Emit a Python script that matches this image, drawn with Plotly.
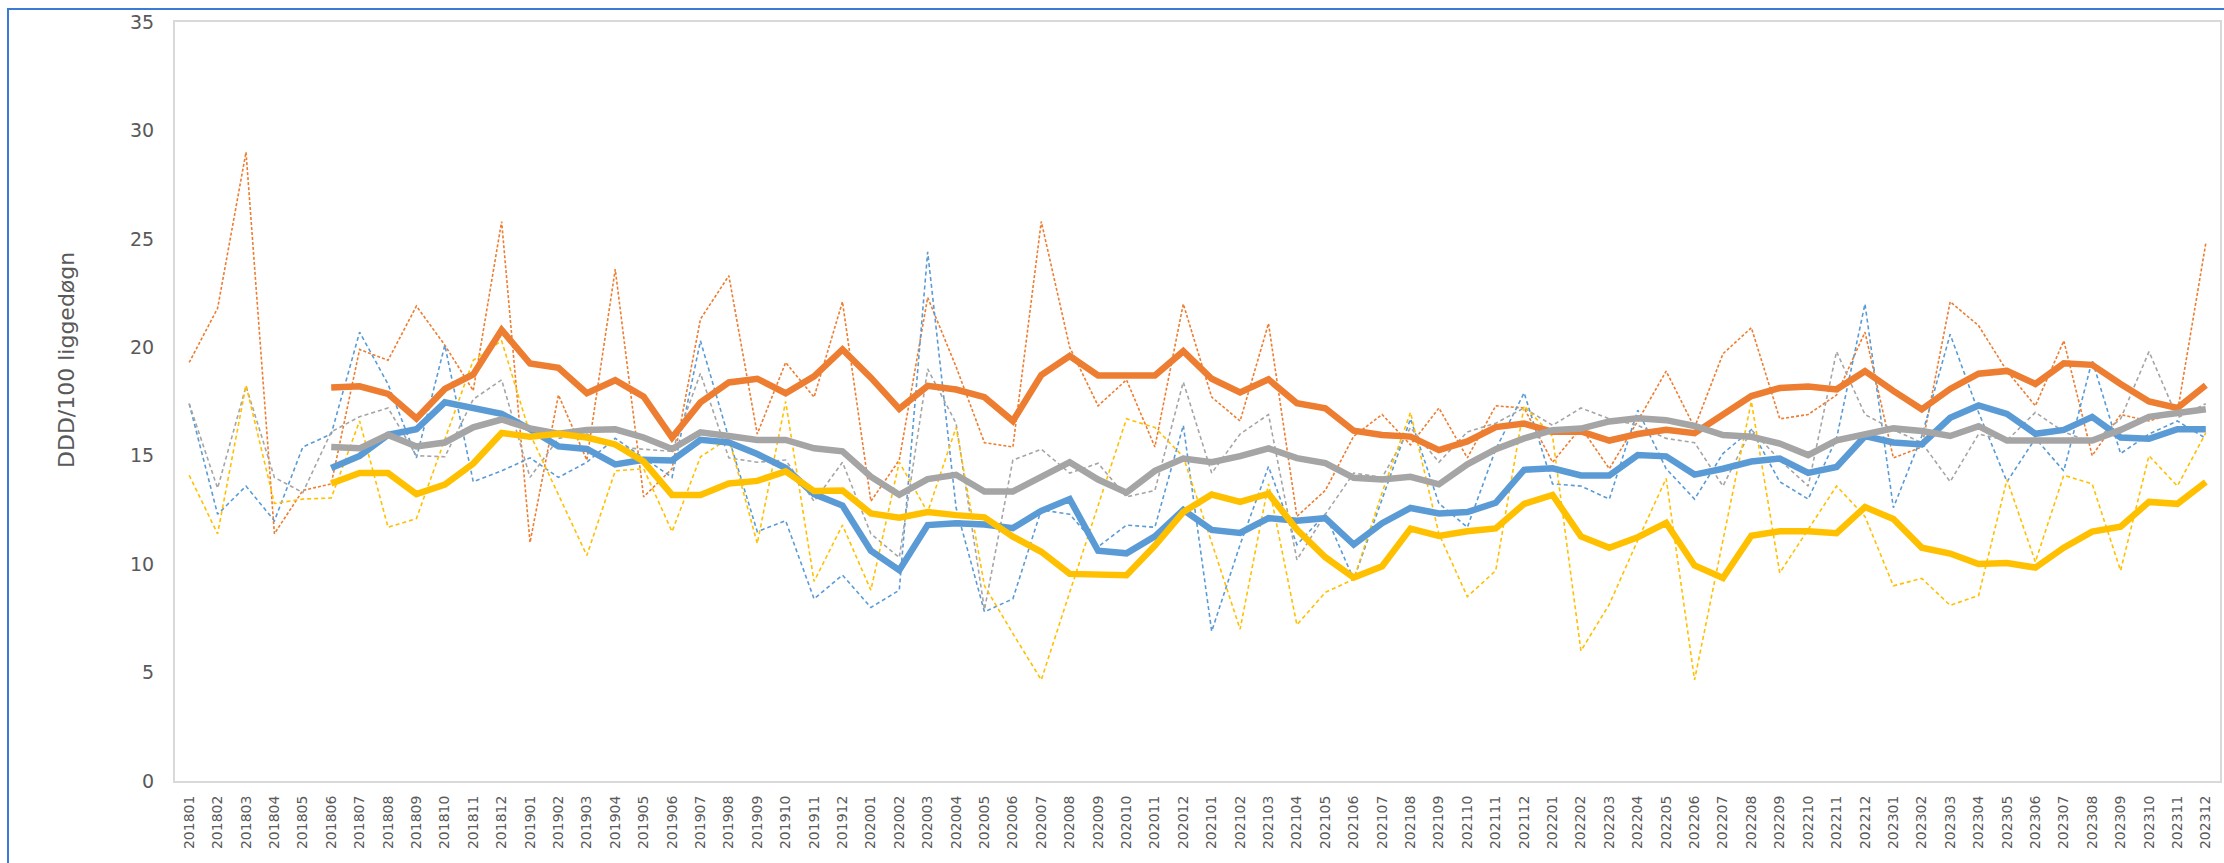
import plotly.graph_objects as go

months = [
    "201801", "201802", "201803", "201804", "201805", "201806", "201807", "201808", "201809", "201810", "201811", "201812",
    "201901", "201902", "201903", "201904", "201905", "201906", "201907", "201908", "201909", "201910", "201911", "201912",
    "202001", "202002", "202003", "202004", "202005", "202006", "202007", "202008", "202009", "202010", "202011", "202012",
    "202101", "202102", "202103", "202104", "202105", "202106", "202107", "202108", "202109", "202110", "202111", "202112",
    "202201", "202202", "202203", "202204", "202205", "202206", "202207", "202208", "202209", "202210", "202211", "202212",
    "202301", "202302", "202303", "202304", "202305", "202306", "202307", "202308", "202309", "202310", "202311", "202312",
]

orange_monthly = [19.3, 21.8, 29.0, 11.4, 13.4, 13.7, 19.9, 19.4, 21.9, 20.1, 18.0, 25.8,
                  11.0, 17.8, 14.8, 23.6, 13.1, 14.4, 21.3, 23.3, 16.0, 19.3, 17.7, 22.1,
                  12.9, 14.8, 22.3, 19.1, 15.6, 15.4, 25.8, 20.0, 17.3, 18.5, 15.4, 22.0,
                  17.7, 16.6, 21.1, 12.2, 13.4, 15.9, 16.9, 15.5, 17.2, 14.9, 17.3, 17.2,
                  14.7, 16.3, 14.4, 16.6, 18.9, 16.3, 19.7, 20.9, 16.7, 16.9, 17.8, 20.7,
                  14.9, 15.4, 22.1, 21.0, 18.9, 17.3, 20.3, 15.0, 16.9, 16.6, 17.0, 24.8]

blue_monthly = [17.4, 12.3, 13.6, 12.0, 15.4, 16.0, 20.7, 18.3, 14.9, 20.1, 13.8, 14.3,
                14.9, 14.0, 14.7, 15.8, 14.9, 14.0, 20.3, 15.8, 11.5, 12.0, 8.4, 9.5,
                8.0, 8.8, 24.4, 12.6, 7.8, 8.4, 12.5, 12.3, 10.8, 11.8, 11.7, 16.4,
                6.9, 10.9, 14.5, 10.9, 12.3, 9.3, 13.0, 16.7, 12.8, 11.7, 15.3, 17.9,
                13.7, 13.6, 13.0, 17.1, 14.4, 13.0, 15.1, 16.2, 13.8, 13.0, 15.8, 22.0,
                12.6, 15.9, 20.6, 17.0, 13.8, 15.8, 14.3, 19.4, 15.1, 16.0, 16.6, 15.8]

gray_monthly = [17.4, 13.5, 18.2, 14.0, 13.3, 16.1, 16.8, 17.2, 15.0, 14.95, 17.6, 18.5,
                14.0, 15.8, 16.0, 15.4, 15.3, 15.2, 18.8, 14.9, 14.7, 14.8, 12.9, 14.7,
                11.4, 10.3, 19.0, 16.5, 7.9, 14.8, 15.3, 14.2, 14.65, 13.1, 13.4, 18.4,
                14.2, 16.0, 16.9, 10.2, 12.3, 14.2, 14.0, 16.3, 14.7, 16.1, 16.5, 17.2,
                16.4, 17.2, 16.7, 16.4, 15.8, 15.6, 13.6, 16.2, 14.8, 13.6, 19.8, 16.9,
                16.2, 15.6, 13.8, 16.0, 15.7, 17.0, 16.1, 15.6, 16.7, 19.8, 16.75, 17.4]

yellow_monthly = [14.1, 11.4, 18.25, 12.8, 13.0, 13.05, 16.6, 11.7, 12.1, 15.8, 19.4, 20.3,
                  16.0, 13.2, 10.4, 14.3, 14.4, 11.5, 14.95, 15.8, 10.95, 17.5, 9.2, 11.8,
                  8.8, 14.7, 12.4, 16.3, 9.0, 6.8, 4.66, 8.7, 12.65, 16.7, 16.3, 14.95,
                  11.0, 7.0, 13.7, 7.2, 8.7, 9.3, 13.3, 17.0, 11.4, 8.5, 9.7, 17.3,
                  15.9, 6.0, 8.15, 11.1, 13.95, 4.66, 11.1, 17.5, 9.6, 11.6, 13.6, 12.2,
                  9.0, 9.34, 8.1, 8.55, 13.9, 10.1, 14.1, 13.7, 9.7, 15.0, 13.6, 16.05]

# 6-month moving-average lines (from 201806)
ma_months = months[5:]

orange_ma = [18.15, 18.2, 17.85, 16.72, 18.08, 18.75, 20.8,
             19.25, 19.05, 17.88, 18.48, 17.72, 15.84, 17.46, 18.38, 18.55, 17.88, 18.66, 19.9,
             18.6, 17.16, 18.22, 18.05, 17.7, 16.6, 18.72, 19.6, 18.7, 18.7, 18.7, 19.82,
             18.55, 17.92, 18.52, 17.42, 17.19, 16.15, 15.96, 15.88, 15.26, 15.66, 16.32, 16.48,
             16.1, 16.12, 15.7, 16.0, 16.2, 16.04, 16.9, 17.75, 18.12, 18.19, 18.06, 18.9,
             17.99, 17.14, 18.08, 18.78, 18.91, 18.31, 19.26, 19.19, 18.31, 17.5, 17.2, 18.25]

blue_ma = [14.43, 14.99, 15.96, 16.22, 17.46, 17.2, 16.93,
           16.22, 15.43, 15.31, 14.6, 14.81, 14.78, 15.73, 15.61, 15.08, 14.43, 13.23, 12.7,
           10.62, 9.72, 11.8, 11.89, 11.83, 11.66, 12.46, 13.0, 10.62, 10.5, 11.28, 12.5,
           11.58, 11.44, 12.12, 12.0, 12.12, 10.9, 11.89, 12.59, 12.34, 12.4, 12.83, 14.35,
           14.42, 14.09, 14.09, 15.03, 14.97, 14.13, 14.4, 14.73, 14.87, 14.21, 14.48, 15.9,
           15.61, 15.52, 16.75, 17.32, 16.93, 16.01, 16.19, 16.79, 15.84, 15.78, 16.22, 16.22]

gray_ma = [15.4, 15.34, 15.96, 15.43, 15.61, 16.31, 16.67,
           16.26, 16.01, 16.19, 16.22, 15.84, 15.31, 16.08, 15.91, 15.73, 15.73, 15.34, 15.2,
           14.03, 13.2, 13.92, 14.12, 13.35, 13.35, 14.0, 14.7, 13.9, 13.3, 14.3, 14.87,
           14.7, 14.98, 15.34, 14.89, 14.66, 13.98, 13.9, 14.03, 13.68, 14.6, 15.3, 15.8,
           16.18, 16.25, 16.58, 16.73, 16.64, 16.37, 15.95, 15.87, 15.56, 15.03, 15.71, 15.95,
           16.26, 16.14, 15.91, 16.36, 15.7, 15.7, 15.7, 15.7, 16.19, 16.79, 16.97, 17.14]

yellow_ma = [13.72, 14.2, 14.2, 13.23, 13.67, 14.64, 16.05,
             15.87, 16.01, 15.84, 15.52, 14.73, 13.19, 13.19, 13.72, 13.84, 14.28, 13.37, 13.4,
             12.34, 12.14, 12.4, 12.26, 12.16, 11.27, 10.57, 9.55, 9.49, 9.49, 10.86, 12.4,
             13.21, 12.87, 13.25, 11.6, 10.32, 9.38, 9.9, 11.64, 11.3, 11.52, 11.65, 12.78,
             13.19, 11.28, 10.75, 11.24, 11.9, 9.94, 9.36, 11.31, 11.52, 11.52, 11.43, 12.63,
             12.08, 10.76, 10.49, 10.01, 10.05, 9.84, 10.76, 11.5, 11.73, 12.87, 12.78, 13.79]

ORANGE = "#ED7D31"
BLUE = "#5B9BD5"
GRAY = "#A5A5A5"
YELLOW = "#FFC000"

fig = go.Figure()

for vals, col, dash in [
    (orange_monthly, ORANGE, "3px,2px"),
    (blue_monthly, BLUE, "4px,3px"),
    (gray_monthly, GRAY, "4px,3px"),
    (yellow_monthly, YELLOW, "4px,3px"),
]:
    fig.add_trace(go.Scatter(
        x=months, y=vals, mode="lines",
        line=dict(color=col, width=1.6, dash=dash),
        hoverinfo="skip", showlegend=False,
    ))

for vals, col in [
    (orange_ma, ORANGE),
    (blue_ma, BLUE),
    (gray_ma, GRAY),
    (yellow_ma, YELLOW),
]:
    fig.add_trace(go.Scatter(
        x=ma_months, y=vals, mode="lines",
        line=dict(color=col, width=6.5),
        hoverinfo="skip", showlegend=False,
    ))

W, H = 2224, 863
L, R, T, B = 175, 4, 22, 82
pw, ph = W - L - R, H - T - B

fig.update_layout(
    width=W, height=H,
    margin=dict(l=L, r=R, t=T, b=B, pad=0, autoexpand=False),
    paper_bgcolor="white",
    plot_bgcolor="white",
    showlegend=False,
    font=dict(family="DejaVu Sans, Liberation Sans, sans-serif", color="#595959"),
)

fig.update_xaxes(
    type="category",
    categoryorder="array", categoryarray=months,
    range=[-0.5, len(months) - 0.5],
    tickmode="array", tickvals=months, ticktext=months,
    tickangle=-90,
    tickfont=dict(size=14, color="#595959", family="DejaVu Sans, sans-serif"),
    ticks="",
    ticklabelstandoff=7,
    showgrid=False, zeroline=False,
    showline=True, linecolor="#D9D9D9", linewidth=2, mirror=True,
    automargin=False,
)

fig.update_yaxes(
    range=[0, 35], tickmode="linear", tick0=0, dtick=5,
    tickfont=dict(size=19, color="#595959", family="DejaVu Sans, sans-serif"),
    ticks="",
    ticklabelstandoff=15,
    showgrid=False, zeroline=False,
    showline=True, linecolor="#D9D9D9", linewidth=2, mirror=True,
    automargin=False,
)

# y-axis title
fig.add_annotation(
    text="DDD/100 liggedøgn",
    xref="paper", yref="paper",
    x=(66 - L) / pw, y=(H - B - 360) / ph,
    xanchor="center", yanchor="middle",
    textangle=-90, showarrow=False,
    font=dict(size=22, color="#595959", family="DejaVu Sans, sans-serif"),
)

# outer chart frame (blue selection border)
fig.add_shape(
    type="rect", xref="paper", yref="paper",
    x0=(8 - L) / pw, x1=(W + 20 - L) / pw,
    y0=(H - B - (H + 20)) / ph, y1=(H - B - 9) / ph,
    line=dict(color="#3A7BD5", width=2), fillcolor="rgba(0,0,0,0)",
    layer="above",
)

fig.write_html(
    "out.html",
    config={"displayModeBar": False, "staticPlot": True},
    post_script="document.body.style.margin='0px';document.body.style.overflow='hidden';",
)
